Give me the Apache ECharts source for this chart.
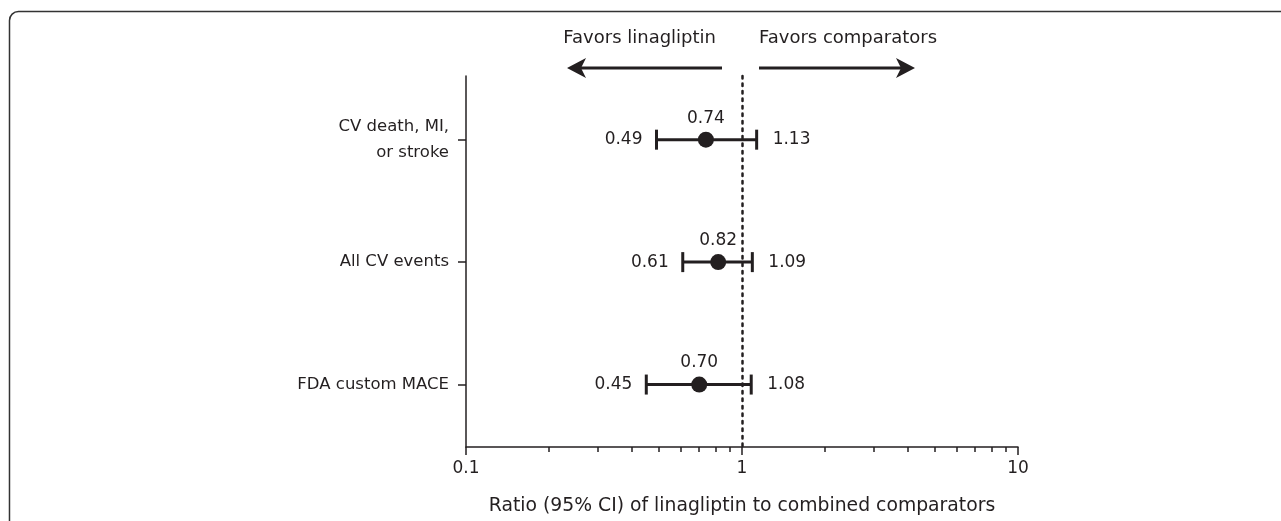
<!DOCTYPE html>
<html>
<head>
<meta charset="utf-8">
<script src="https://cdn.jsdelivr.net/npm/echarts@6/dist/echarts.min.js"></script>
<style>html,body{margin:0;padding:0;background:#fff}#c{width:1281px;height:521px}</style>
</head>
<body>
<div id="c"></div>
<script>
const categories = ['CV death, MI,\nor stroke', 'All CV events', 'FDA custom MACE'];
const ratio = [0.74, 0.82, 0.70];
const lower = [0.49, 0.61, 0.45];
const upper = [1.13, 1.09, 1.08];
const xTickLabels = [0.1, 1, 10];
const xMinorTicks = [0.2, 0.3, 0.4, 0.5, 0.6, 0.7, 0.8, 0.9, 2, 3, 4, 5, 6, 7, 8, 9];
const rowPositions = [0, 1, 2];
const referenceValue = 1;
const xAxisTitle = 'Ratio (95% CI) of linagliptin to combined comparators';
const leftNote = 'Favors linagliptin';
const rightNote = 'Favors comparators';

const INK = '#231f20';
const FONT = 'DejaVu Sans';
const FS = 18;

const chart = echarts.init(document.getElementById('c'), null, {renderer: 'canvas'});

const errData = categories.map((c, i) => [lower[i], upper[i], rowPositions[i]]);
const dotData = categories.map((c, i) => [ratio[i], rowPositions[i]]);

function arrow(x1, x2, y, dir) {
  const tip = dir < 0 ? x1 : x2;
  const s = dir < 0 ? 1 : -1;
  return [
    {type: 'line', shape: {x1: dir < 0 ? x1 + 10 : x1, y1: y, x2: dir < 0 ? x2 : x2 - 10, y2: y},
     style: {stroke: INK, lineWidth: 3}},
    {type: 'polygon', shape: {points: [[tip, y], [tip + s * 19, y - 10], [tip + s * 14, y], [tip + s * 19, y + 10]]},
     style: {fill: INK}}
  ];
}

const option = {
  animation: false,
  backgroundColor: '#fff',
  textStyle: {fontFamily: FONT, color: INK},
  grid: {left: 466, right: 263, top: 76, bottom: 74, containLabel: false},
  xAxis: [
    {
      type: 'log', logBase: 10, min: 0.1, max: 10,
      axisLine: {show: true, onZero: false, lineStyle: {color: INK, width: 1.5}},
      axisTick: {show: true, length: 8, customValues: xTickLabels, lineStyle: {color: INK, width: 1.5}},
      axisLabel: {show: true, customValues: xTickLabels, margin: 13, fontSize: 17, color: INK, fontFamily: FONT,
                  formatter: v => String(+v.toPrecision(6))},
      splitLine: {show: false},
      name: xAxisTitle, nameLocation: 'middle', nameGap: 50,
      nameTextStyle: {fontSize: 18.8, color: INK, fontFamily: FONT}
    },
    {
      type: 'log', logBase: 10, min: 0.1, max: 10, gridIndex: 0, position: 'bottom',
      axisLine: {show: false, onZero: false},
      axisTick: {show: true, length: 5, customValues: xMinorTicks, lineStyle: {color: INK, width: 1.5}},
      axisLabel: {show: false},
      splitLine: {show: false}
    }
  ],
  yAxis: {
    type: 'value', inverse: true, min: -0.52, max: 2.51,
    axisLine: {show: true, onZero: false, lineStyle: {color: INK, width: 1.5}},
    axisTick: {show: true, length: 8, customValues: rowPositions, lineStyle: {color: INK, width: 1.5}},
    axisLabel: {margin: 17, fontSize: 16.5, lineHeight: 26, color: INK, fontFamily: FONT, align: 'right',
                customValues: rowPositions,
                formatter: v => categories[rowPositions.indexOf(Math.round(v))] || ''},
    splitLine: {show: false}
  },
  series: [
    {
      type: 'custom', xAxisIndex: 0, z: 2,
      data: errData,
      encode: {x: [0, 1], y: 2},
      renderItem: function (params, api) {
        const lo = api.value(0), hi = api.value(1), row = api.value(2);
        const p1 = api.coord([lo, row]);
        const p2 = api.coord([hi, row]);
        const h = 10;
        return {
          type: 'group',
          children: [
            {type: 'line', shape: {x1: p1[0], y1: p1[1], x2: p2[0], y2: p2[1]}, style: {stroke: INK, lineWidth: 3}},
            {type: 'line', shape: {x1: p1[0], y1: p1[1] - h, x2: p1[0], y2: p1[1] + h}, style: {stroke: INK, lineWidth: 3}},
            {type: 'line', shape: {x1: p2[0], y1: p2[1] - h, x2: p2[0], y2: p2[1] + h}, style: {stroke: INK, lineWidth: 3}},
            {type: 'text', style: {x: p1[0] - 14, y: p1[1], text: lo.toFixed(2), align: 'right', verticalAlign: 'middle',
              fontSize: 17, fontFamily: FONT, fill: INK}},
            {type: 'text', style: {x: p2[0] + 16, y: p2[1], text: hi.toFixed(2), align: 'left', verticalAlign: 'middle',
              fontSize: 17, fontFamily: FONT, fill: INK}}
          ]
        };
      }
    },
    {
      type: 'scatter', xAxisIndex: 0, z: 3,
      data: dotData,
      symbol: 'circle', symbolSize: 16,
      itemStyle: {color: INK, opacity: 1},
      emphasis: {disabled: true},
      label: {show: true, position: 'top', distance: 5, fontSize: 17, fontFamily: FONT, color: INK, opacity: 1,
              formatter: p => p.value[0].toFixed(2)},
      markLine: {
        silent: true, symbol: 'none', animation: false,
        label: {show: false},
        emphasis: {disabled: true},
        lineStyle: {color: INK, width: 2.5, type: [2.5, 5], cap: 'round', opacity: 1},
        data: [{xAxis: referenceValue}]
      }
    }
  ],
  graphic: [
    {type: 'rect', z: -1, shape: {x: 9.5, y: 11.5, width: 1400, height: 700, r: 9},
     style: {fill: 'none', stroke: '#333', lineWidth: 1.5}},
    {type: 'text', style: {x: 716, y: 38, text: leftNote, align: 'right', verticalAlign: 'middle', fontSize: FS, fontFamily: FONT, fill: INK}},
    {type: 'text', style: {x: 759, y: 38, text: rightNote, align: 'left', verticalAlign: 'middle', fontSize: FS, fontFamily: FONT, fill: INK}},
    ...arrow(567, 722, 68, -1),
    ...arrow(759, 915, 68, 1)
  ]
};
chart.setOption(option);
</script>
</body>
</html>
